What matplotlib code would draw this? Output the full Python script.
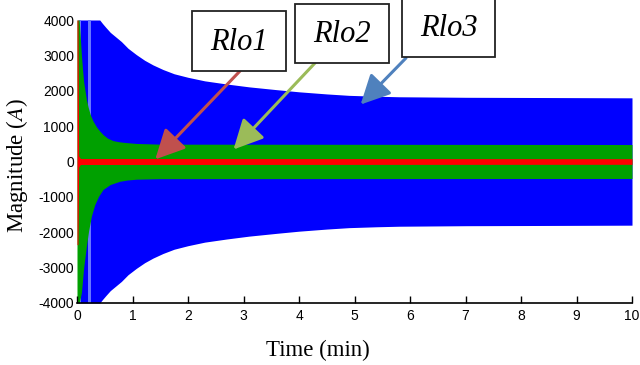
import numpy as np
import matplotlib.pyplot as plt
from matplotlib.patches import Rectangle

plt.rcParams['mathtext.fontset'] = 'stix'
plt.rcParams['axes.unicode_minus'] = False

# envelopes (A)
blue_t = [0.02, 0.41, 0.46, 0.52, 0.6, 0.7, 0.8, 0.92, 1.07, 1.22, 1.37, 1.55, 1.75, 2.0,
          2.3, 2.7, 3.1, 3.6, 4.0, 4.5, 4.9, 5.4, 5.8, 7.0, 8.5, 10.0]
blue_amp = [4000, 4000, 3900, 3790, 3650, 3520, 3390, 3200, 3020, 2860, 2730, 2600, 2480, 2380,
            2280, 2190, 2110, 2030, 1970, 1910, 1870, 1845, 1830, 1815, 1808, 1800]

green_t_hi = [0.0, 0.04, 0.06, 0.08, 0.1, 0.12, 0.15, 0.17, 0.2, 0.24, 0.29, 0.35, 0.41,
              0.47, 0.55, 0.65, 0.75, 0.85, 1.07, 1.5, 10.0]
green_hi = [4000, 4000, 3500, 3000, 2600, 2250, 1950, 1750, 1540, 1320, 1140, 980, 860,
            760, 660, 590, 560, 540, 510, 490, 480]
green_t_lo = [0.0, 0.04, 0.08, 0.12, 0.17, 0.21, 0.26, 0.32, 0.39, 0.47, 0.6, 0.77, 0.9,
              1.07, 1.5, 10.0]
green_lo = [-4000, -4000, -3700, -3000, -2390, -1950, -1540, -1220, -980, -790, -650, -560,
            -525, -500, -485, -480]

red_t = [0.0, 0.018, 0.03, 0.06, 10.0]
red_hi = [4000, 4000, 160, 85, 80]
red_lo = [-2350, -2350, -160, -85, -80]

# lighter vertical streaks inside the blue band (min)
streaks = [(0.045, 0.075), (0.2, 0.255)]

labels = ['Rlo1', 'Rlo2', 'Rlo3']
arrow_tips = [(1.41, 60), (2.82, 340), (5.11, 1610)]
arrow_colors = ['#C0504D', '#9BBB59', '#4F81BD']

W, H = 640, 365
fig = plt.figure(figsize=(W / 100, H / 100), dpi=100)
ax = fig.add_axes([77 / W, 1 - 303 / H, (632 - 77) / W, (303 - 20) / H])

bt = np.array(blue_t)
ba = np.array(blue_amp)
ax.fill_between(bt, -ba, ba, color='#0000FF', lw=0, zorder=1)
for a, b in streaks:
    ax.fill_between([a, b], [-4000, -4000], [4000, 4000], color='#6878FF', lw=0, zorder=1.1)

ax.fill_between(green_t_hi, 0, green_hi, color='#00A000', lw=0, zorder=1.2)
ax.fill_between(green_t_lo, green_lo, 0, color='#00A000', lw=0, zorder=1.2)
ax.fill_between(red_t, red_lo, red_hi, color='#FF0000', lw=0, zorder=1.3)

ax.set_xlim(0, 10)
ax.set_ylim(-4000, 4000)
ax.set_xticks(range(0, 11))
ax.set_yticks(range(-4000, 4001, 1000))
for s in ['top', 'right', 'left']:
    ax.spines[s].set_visible(False)
ax.spines['bottom'].set_linewidth(1.2)
ax.tick_params(axis='x', direction='in', length=5, width=1, pad=4)
ax.tick_params(axis='y', length=0, pad=2)
for lab in ax.get_xticklabels() + ax.get_yticklabels():
    lab.set_family('Liberation Sans')
    lab.set_fontsize(10)

fig.text(318 / W, 1 - 350 / H, 'Time (min)', family='Liberation Serif', fontsize=16.5,
         ha='center', va='center')
fig.text(17 / W, 1 - 165 / H, r'Magnitude ($\mathit{A}$)', family='Liberation Serif',
         fontsize=16.5, rotation=90, ha='center', va='center')

# label boxes: (x0, y0, x1, y1) in pixels from top-left
boxes = [(192, 11, 286, 71), (295, 4, 389, 63), (402, -1, 495, 57)]
tails = [(240, 71), (315, 63), (406, 58)]
for lab, (x0, y0, x1, y1), tail, tip, c in zip(labels, boxes, tails, arrow_tips, arrow_colors):
    fig.patches.append(Rectangle((x0 / W, 1 - y1 / H), (x1 - x0) / W, (y1 - y0) / H,
                                 transform=fig.transFigure, facecolor='white',
                                 edgecolor='#222222', lw=1.3, zorder=5))
    fig.text((x0 + x1) / 2 / W, 1 - ((y0 + y1) / 2 + 1) / H, lab, family='Liberation Serif',
             style='italic', fontsize=22, ha='center', va='center', zorder=6)
    ax.annotate('', xy=tip, xycoords='data',
                xytext=(tail[0] / W, 1 - tail[1] / H), textcoords='figure fraction',
                arrowprops=dict(arrowstyle='-|>,head_length=0.9,head_width=0.45', color=c,
                                lw=2.2, shrinkA=0, shrinkB=0, mutation_scale=20),
                zorder=4)

fig.savefig('out.png', dpi=100)
